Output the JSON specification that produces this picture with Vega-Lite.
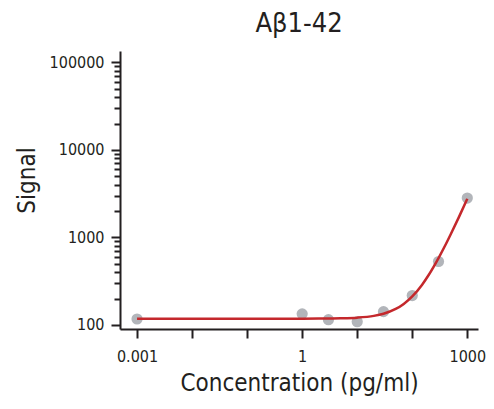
{
  "$schema": "https://vega.github.io/schema/vega-lite/v6.json",
  "autosize": {"type": "none"},
  "width": 358,
  "height": 278,
  "padding": {"left": 120, "top": 51, "right": 16, "bottom": 80},
  "background": "white",
  "title": {"text": "Aβ1-42", "fontSize": 27, "font": "DejaVu Sans Condensed", "fontWeight": "normal", "color": "#231f20", "offset": 13},
  "config": {
    "view": {"stroke": null},
    "font": "DejaVu Sans Condensed",
    "axis": {
      "grid": false,
      "domainColor": "#231f20",
      "domainWidth": 2,
      "tickColor": "#231f20",
      "tickWidth": 2,
      "tickSize": 9,
      "labelColor": "#231f20",
      "labelFont": "DejaVu Sans Condensed",
      "labelFontSize": 16,
      "titleFont": "DejaVu Sans Condensed",
      "titleFontSize": 24,
      "titleFontWeight": "normal",
      "titleColor": "#231f20"
    }
  },
  "datasets": {
    "points": [
      {"conc": 0.001, "signal": 117},
      {"conc": 1, "signal": 134},
      {"conc": 3, "signal": 115},
      {"conc": 10, "signal": 109},
      {"conc": 30, "signal": 142},
      {"conc": 100, "signal": 217},
      {"conc": 300, "signal": 531},
      {"conc": 1000, "signal": 2820}
    ],
    "curve": [
      {"conc": 0.001, "signal": 118},
      {"conc": 0.01, "signal": 118},
      {"conc": 0.1, "signal": 118},
      {"conc": 1, "signal": 118.1},
      {"conc": 2, "signal": 118.3},
      {"conc": 5, "signal": 119.2},
      {"conc": 10, "signal": 121.3},
      {"conc": 20, "signal": 127.1},
      {"conc": 30, "signal": 134.4},
      {"conc": 50, "signal": 152.4},
      {"conc": 70, "signal": 174},
      {"conc": 100, "signal": 212},
      {"conc": 150, "signal": 287},
      {"conc": 200, "signal": 375},
      {"conc": 300, "signal": 581},
      {"conc": 400, "signal": 819},
      {"conc": 500, "signal": 1088},
      {"conc": 700, "signal": 1697},
      {"conc": 1000, "signal": 2767}
    ]
  },
  "layer": [
    {
      "data": {"name": "points"},
      "mark": {"type": "circle", "size": 125, "color": "#b2b5ba", "opacity": 1},
      "encoding": {
        "x": {
          "field": "conc", "type": "quantitative",
          "scale": {"type": "log", "domain": [0.00049, 1564], "nice": false},
          "axis": {
            "title": "Concentration  (pg/ml)",
            "values": [0.001, 0.01, 0.1, 1, 10, 100, 1000],
            "labelExpr": "datum.value == 0.001 ? '0.001' : (datum.value == 1 ? '1' : (datum.value == 1000 ? '1000' : ''))",
            "labelFlush": false,
            "labelOverlap": false,
            "labelPadding": 10,
            "titlePadding": 7
          }
        },
        "y": {
          "field": "signal", "type": "quantitative",
          "scale": {"type": "log", "domain": [90, 135000], "nice": false},
          "axis": {
            "title": "Signal",
            "values": [100, 1000, 10000, 100000],
            "format": "d",
            "labelPadding": 7,
            "titlePadding": 10,
            "titleY": 129,
            "labelOverlap": false
          }
        }
      }
    },
    {
      "data": {"name": "curve"},
      "mark": {"type": "line", "color": "#c4282c", "strokeWidth": 2.5, "interpolate": "monotone"},
      "encoding": {
        "x": {"field": "conc", "type": "quantitative"},
        "y": {
          "field": "signal", "type": "quantitative",
          "axis": {
            "orient": "left",
            "title": null,
            "domain": false,
            "labels": false,
            "tickSize": 6,
            "values": [200, 300, 400, 500, 600, 700, 800, 900, 2000, 3000, 4000, 5000, 6000, 7000, 8000, 9000, 20000, 30000, 40000, 50000, 60000, 70000, 80000, 90000]
          }
        }
      }
    }
  ],
  "resolve": {"axis": {"y": "independent"}}
}
